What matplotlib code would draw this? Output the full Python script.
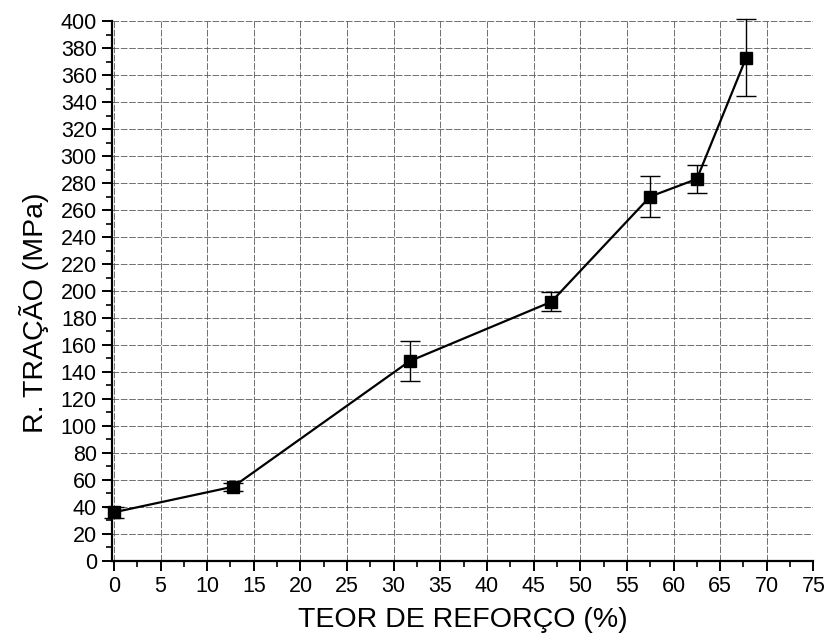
import matplotlib.pyplot as plt
from matplotlib.ticker import MultipleLocator

plt.rcParams['font.family'] = ['Liberation Sans', 'DejaVu Sans']

teor = [0.0, 12.8, 31.7, 46.9, 57.5, 62.5, 67.8]
tracao = [36, 55, 148, 192, 270, 283, 373]
erro = [4, 3, 15, 7, 15, 10.5, 28.5]

fig = plt.figure(figsize=(8.3, 6.41), dpi=100)
ax = fig.add_axes([0.135, 0.125, 0.845, 0.842])

ax.errorbar(teor, tracao, yerr=erro, color='black', marker='s', markersize=8.5,
            linewidth=1.6, elinewidth=1.0, capsize=7.5, capthick=1.0, clip_on=False, zorder=3)

ax.set_xlim(-0.2, 75)
ax.set_ylim(0, 400)
ax.xaxis.set_major_locator(MultipleLocator(5))
ax.xaxis.set_minor_locator(MultipleLocator(2.5))
ax.yaxis.set_major_locator(MultipleLocator(20))
ax.yaxis.set_minor_locator(MultipleLocator(10))
ax.grid(True, which='major', color='0.35', linewidth=0.6, linestyle=(0, (8, 2)))

for s in ['top', 'right']:
    ax.spines[s].set_visible(False)
for s in ['left', 'bottom']:
    ax.spines[s].set_linewidth(1.6)

ax.tick_params(which='major', direction='out', length=7, width=1.4, labelsize=15.5, pad=4)
ax.tick_params(which='minor', direction='out', length=4, width=1.2)

ax.set_xlabel('TEOR DE REFORÇO (%)', fontsize=20.5, labelpad=7)
ax.set_ylabel('R. TRAÇÃO (MPa)', fontsize=20.5)
ax.yaxis.set_label_coords(-0.09, 0.46)

fig.savefig('out.png', dpi=100)
